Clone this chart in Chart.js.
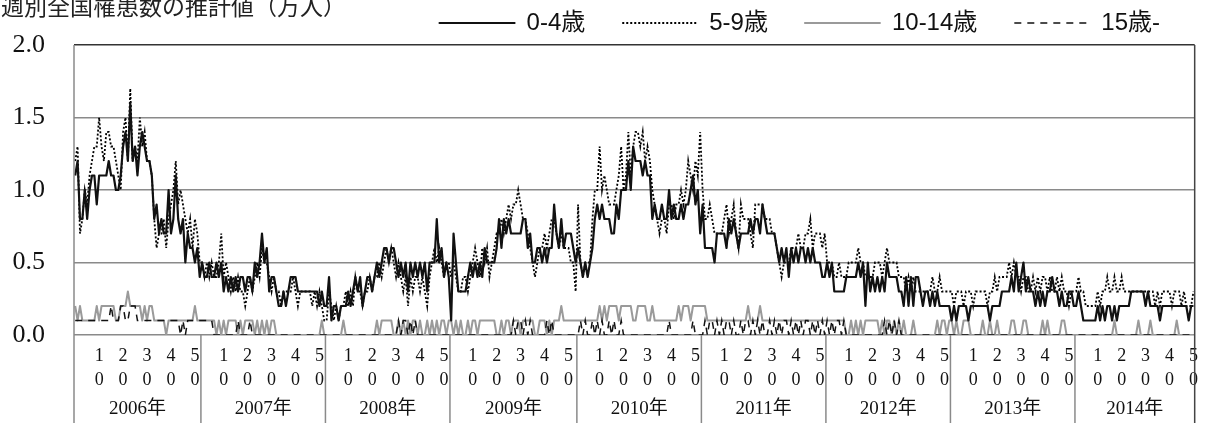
<!DOCTYPE html>
<html>
<head>
<meta charset="utf-8">
<script src="https://cdn.jsdelivr.net/npm/chart.js@4.4.1/dist/chart.umd.min.js"></script>
<style>
  body { margin: 0; background: #fff; }
  #wrap { position: relative; width: 1207px; height: 423px; overflow: hidden; }
  #title {
    position: absolute; left: 1px; top: -6px;
    font: 23px/23px 'Noto Sans CJK JP', sans-serif; color: #222; white-space: nowrap;
  }
</style>
</head>
<body>
<div id="wrap">
  <canvas id="fluChart" width="1207" height="423"></canvas>
  <div id="title">週別全国罹患数の推計値（万人）</div>
</div>
<script>
// ---- Data (weekly estimates, 万人) ----
const yearLabels  = ['2006年', '2007年', '2008年', '2009年', '2010年', '2011年', '2012年', '2013年', '2014年'];
const weeksInYear = [53, 52, 52, 53, 52, 52, 52, 52, 50];
const firstWeek   = [0, 1, 1, 1, 1, 1, 1, 1, 1];
const labelWeeks  = [10, 20, 30, 40, 50];
const seriesNames = ['0-4歳', '5-9歳', '10-14歳', '15歳-'];

const age0to4 = [
  // 2006
  1.1, 1.2, 0.8, 0.8, 1.0, 0.8, 1.0, 1.1, 1.1, 0.9, 1.1, 1.1, 1.1, 1.1, 1.2, 1.1, 1.1, 1.0, 1.0, 1.1,
  1.3, 1.4, 1.2, 1.6, 1.2, 1.3, 1.1, 1.3, 1.4, 1.3, 1.2, 1.2, 1.1, 0.8, 0.9, 0.7, 0.8, 0.7, 0.7, 1.0,
  0.7, 0.8, 1.1, 0.8, 0.7, 0.8, 0.5, 0.7, 0.6, 0.6, 0.5, 0.6, 0.4,
  // 2007
  0.5, 0.4, 0.4, 0.5, 0.4, 0.4, 0.5, 0.4, 0.5, 0.3, 0.4, 0.3, 0.4, 0.3, 0.4, 0.3, 0.4, 0.4, 0.3, 0.4,
  0.4, 0.3, 0.5, 0.4, 0.5, 0.7, 0.5, 0.6, 0.3, 0.4, 0.4, 0.3, 0.2, 0.2, 0.3, 0.2, 0.3, 0.4, 0.4, 0.4,
  0.3, 0.3, 0.3, 0.3, 0.3, 0.3, 0.3, 0.3, 0.3, 0.2, 0.3, 0.2,
  // 2008
  0.2, 0.4, 0.1, 0.2, 0.2, 0.1, 0.2, 0.2, 0.2, 0.3, 0.2, 0.3, 0.4, 0.3, 0.4, 0.2, 0.3, 0.4, 0.4, 0.3,
  0.4, 0.5, 0.4, 0.5, 0.6, 0.6, 0.5, 0.6, 0.6, 0.5, 0.4, 0.5, 0.4, 0.5, 0.3, 0.5, 0.4, 0.5, 0.4, 0.5,
  0.4, 0.5, 0.3, 0.5, 0.5, 0.5, 0.8, 0.5, 0.6, 0.4, 0.5, 0.4,
  // 2009
  0.1, 0.7, 0.5, 0.3, 0.3, 0.3, 0.3, 0.4, 0.5, 0.4, 0.5, 0.4, 0.5, 0.4, 0.6, 0.5, 0.5, 0.5, 0.5, 0.6,
  0.8, 0.6, 0.8, 0.7, 0.8, 0.7, 0.7, 0.7, 0.7, 0.7, 0.8, 0.8, 0.6, 0.7, 0.5, 0.5, 0.6, 0.6, 0.5, 0.6,
  0.5, 0.6, 0.6, 0.9, 0.7, 0.6, 0.8, 0.6, 0.7, 0.7, 0.7, 0.6, 0.5,
  // 2010
  0.6, 0.5, 0.4, 0.5, 0.4, 0.5, 0.6, 0.8, 0.9, 0.8, 0.9, 0.8, 0.8, 0.8, 0.7, 0.7, 0.9, 0.8, 1.0, 1.0,
  1.0, 1.2, 1.0, 1.3, 1.2, 1.2, 1.2, 1.1, 1.2, 1.1, 1.1, 0.8, 0.9, 0.8, 0.8, 0.9, 0.8, 0.8, 1.0, 0.8,
  0.9, 0.8, 0.8, 0.9, 0.8, 0.9, 0.9, 1.0, 1.1, 0.9, 1.0, 0.7,
  // 2011
  0.9, 0.6, 0.6, 0.6, 0.6, 0.5, 0.7, 0.7, 0.7, 0.7, 0.6, 0.8, 0.7, 0.8, 0.7, 0.6, 0.7, 0.7, 0.7, 0.7,
  0.8, 0.7, 0.8, 0.8, 0.7, 0.9, 0.8, 0.7, 0.7, 0.7, 0.7, 0.6, 0.5, 0.6, 0.5, 0.6, 0.4, 0.6, 0.5, 0.6,
  0.5, 0.6, 0.6, 0.5, 0.6, 0.5, 0.6, 0.5, 0.5, 0.5, 0.4, 0.4,
  // 2012
  0.5, 0.4, 0.5, 0.3, 0.3, 0.3, 0.3, 0.3, 0.4, 0.4, 0.4, 0.4, 0.4, 0.5, 0.4, 0.5, 0.2, 0.5, 0.3, 0.4,
  0.3, 0.4, 0.3, 0.4, 0.3, 0.5, 0.4, 0.4, 0.4, 0.4, 0.3, 0.3, 0.2, 0.4, 0.2, 0.4, 0.2, 0.4, 0.4, 0.3,
  0.2, 0.3, 0.3, 0.2, 0.3, 0.2, 0.3, 0.2, 0.2, 0.2, 0.2, 0.2,
  // 2013
  0.1, 0.2, 0.1, 0.2, 0.2, 0.2, 0.2, 0.1, 0.2, 0.2, 0.2, 0.2, 0.2, 0.2, 0.2, 0.2, 0.1, 0.2, 0.2, 0.2,
  0.2, 0.3, 0.3, 0.3, 0.3, 0.4, 0.3, 0.5, 0.3, 0.4, 0.5, 0.3, 0.4, 0.3, 0.3, 0.2, 0.3, 0.2, 0.3, 0.2,
  0.3, 0.3, 0.4, 0.3, 0.3, 0.2, 0.3, 0.2, 0.2, 0.3, 0.3, 0.2,
  // 2014
  0.2, 0.3, 0.2, 0.1, 0.1, 0.1, 0.1, 0.1, 0.1, 0.2, 0.1, 0.2, 0.1, 0.2, 0.2, 0.1, 0.2, 0.1, 0.2, 0.2,
  0.2, 0.2, 0.2, 0.3, 0.3, 0.3, 0.3, 0.3, 0.3, 0.2, 0.3, 0.2, 0.2, 0.2, 0.2, 0.1, 0.2, 0.2, 0.2, 0.2,
  0.2, 0.2, 0.2, 0.2, 0.2, 0.2, 0.2, 0.1, 0.2, 0.2
];

const age5to9 = [
  // 2006
  1.2, 1.3, 0.7, 0.8, 1.0, 0.9, 1.1, 1.2, 1.3, 1.3, 1.5, 1.3, 1.2, 1.4, 1.4, 1.3, 1.3, 1.2, 1.1, 1.0,
  1.4, 1.5, 1.2, 1.7, 1.2, 1.3, 1.2, 1.5, 1.3, 1.4, 1.2, 1.2, 1.1, 0.8, 0.6, 0.7, 0.7, 0.8, 0.6, 0.8,
  0.9, 1.0, 1.2, 0.9, 1.0, 0.9, 0.8, 0.7, 0.8, 0.6, 0.8, 0.7, 0.5,
  // 2007
  0.5, 0.4, 0.5, 0.4, 0.5, 0.4, 0.4, 0.5, 0.7, 0.4, 0.5, 0.4, 0.3, 0.4, 0.3, 0.4, 0.3, 0.3, 0.2, 0.3,
  0.4, 0.3, 0.4, 0.5, 0.4, 0.6, 0.5, 0.5, 0.4, 0.3, 0.4, 0.3, 0.3, 0.2, 0.3, 0.3, 0.3, 0.3, 0.4, 0.3,
  0.2, 0.3, 0.3, 0.3, 0.3, 0.3, 0.2, 0.3, 0.2, 0.3, 0.2, 0.1,
  // 2008
  0.1, 0.3, 0.2, 0.1, 0.2, 0.1, 0.2, 0.2, 0.3, 0.2, 0.3, 0.2, 0.4, 0.3, 0.3, 0.2, 0.3, 0.3, 0.4, 0.3,
  0.4, 0.4, 0.5, 0.4, 0.5, 0.6, 0.5, 0.6, 0.5, 0.4, 0.5, 0.4, 0.3, 0.4, 0.2, 0.4, 0.3, 0.4, 0.4, 0.3,
  0.4, 0.3, 0.2, 0.4, 0.5, 0.6, 0.5, 0.6, 0.5, 0.4, 0.5, 0.5,
  // 2009
  0.4, 0.5, 0.4, 0.3, 0.3, 0.4, 0.4, 0.3, 0.4, 0.5, 0.6, 0.5, 0.4, 0.6, 0.5, 0.6, 0.4, 0.5, 0.6, 0.7,
  0.7, 0.8, 0.7, 0.8, 0.9, 0.8, 0.9, 0.9, 1.0, 0.9, 0.8, 0.8, 0.7, 0.6, 0.5, 0.4, 0.5, 0.6, 0.6, 0.7,
  0.6, 0.7, 0.8, 0.8, 0.7, 0.6, 0.7, 0.6, 0.6, 0.6, 0.5, 0.5, 0.3,
  // 2010
  0.9, 0.5, 0.4, 0.5, 0.5, 0.5, 0.8, 1.0, 1.0, 1.3, 1.0, 1.1, 1.0, 0.9, 0.9, 0.9, 1.0, 1.1, 1.3, 1.0,
  1.1, 1.4, 1.1, 1.3, 1.4, 1.4, 1.3, 1.4, 1.2, 1.3, 1.2, 1.0, 0.9, 0.8, 0.7, 0.8, 0.8, 0.7, 0.9, 0.9,
  0.8, 0.9, 0.9, 1.0, 0.9, 1.0, 1.2, 1.1, 1.0, 1.2, 1.1, 1.4,
  // 2011
  1.0, 0.8, 0.8, 0.9, 0.8, 0.7, 0.7, 0.7, 0.7, 0.8, 0.9, 0.7, 0.8, 0.9, 0.7, 0.6, 0.9, 0.8, 0.8, 0.8,
  0.7, 0.6, 0.9, 0.9, 0.9, 0.9, 0.8, 0.8, 0.8, 0.7, 0.7, 0.6, 0.5, 0.4, 0.5, 0.5, 0.5, 0.6, 0.6, 0.6,
  0.7, 0.6, 0.6, 0.7, 0.7, 0.8, 0.6, 0.7, 0.7, 0.7, 0.6, 0.7,
  // 2012
  0.5, 0.5, 0.5, 0.4, 0.4, 0.5, 0.4, 0.4, 0.4, 0.5, 0.5, 0.5, 0.5, 0.6, 0.5, 0.5, 0.4, 0.4, 0.4, 0.4,
  0.5, 0.5, 0.5, 0.4, 0.5, 0.6, 0.5, 0.5, 0.5, 0.5, 0.4, 0.4, 0.4, 0.3, 0.4, 0.3, 0.4, 0.3, 0.3, 0.3,
  0.3, 0.3, 0.3, 0.3, 0.4, 0.3, 0.3, 0.4, 0.3, 0.3, 0.3, 0.3,
  // 2013
  0.3, 0.2, 0.3, 0.3, 0.3, 0.2, 0.3, 0.3, 0.3, 0.2, 0.3, 0.3, 0.3, 0.3, 0.3, 0.2, 0.3, 0.3, 0.4, 0.3,
  0.4, 0.4, 0.4, 0.4, 0.5, 0.4, 0.5, 0.4, 0.4, 0.3, 0.4, 0.4, 0.3, 0.3, 0.4, 0.3, 0.4, 0.3, 0.4, 0.4,
  0.3, 0.4, 0.3, 0.3, 0.4, 0.3, 0.4, 0.3, 0.3, 0.2, 0.3, 0.3,
  // 2014
  0.3, 0.4, 0.3, 0.3, 0.2, 0.2, 0.2, 0.2, 0.2, 0.3, 0.2, 0.3, 0.3, 0.4, 0.3, 0.3, 0.4, 0.3, 0.3, 0.4,
  0.3, 0.3, 0.3, 0.3, 0.3, 0.3, 0.3, 0.3, 0.3, 0.3, 0.3, 0.3, 0.3, 0.2, 0.3, 0.2, 0.3, 0.3, 0.3, 0.3,
  0.2, 0.3, 0.3, 0.3, 0.2, 0.3, 0.2, 0.2, 0.2, 0.3
];

const age10to14 = [
  // 2006
  0.2, 0.1, 0.2, 0.1, 0.1, 0.1, 0.1, 0.1, 0.1, 0.2, 0.1, 0.2, 0.2, 0.2, 0.2, 0.2, 0.2, 0.1, 0.1, 0.2,
  0.2, 0.2, 0.3, 0.2, 0.2, 0.2, 0.2, 0.2, 0.1, 0.2, 0.1, 0.2, 0.2, 0.1, 0.1, 0.1, 0.1, 0.1, 0.0, 0.1,
  0.1, 0.1, 0.1, 0.1, 0.1, 0.1, 0.1, 0.1, 0.1, 0.1, 0.2, 0.1, 0.1,
  // 2007
  0.1, 0.1, 0.1, 0.1, 0.1, 0.1, 0.0, 0.1, 0.0, 0.1, 0.0, 0.1, 0.1, 0.1, 0.1, 0.0, 0.1, 0.0, 0.1, 0.1,
  0.1, 0.1, 0.0, 0.1, 0.0, 0.1, 0.0, 0.1, 0.0, 0.1, 0.1, 0.0, 0.0, 0.0, 0.0, 0.0, 0.0, 0.0, 0.0, 0.0,
  0.0, 0.0, 0.0, 0.0, 0.0, 0.0, 0.0, 0.0, 0.0, 0.0, 0.1, 0.0,
  // 2008
  0.0, 0.0, 0.0, 0.0, 0.0, 0.0, 0.0, 0.1, 0.0, 0.0, 0.0, 0.0, 0.0, 0.0, 0.0, 0.0, 0.0, 0.0, 0.0, 0.0,
  0.0, 0.1, 0.0, 0.1, 0.1, 0.1, 0.1, 0.1, 0.0, 0.0, 0.1, 0.0, 0.1, 0.0, 0.1, 0.0, 0.1, 0.1, 0.0, 0.1,
  0.0, 0.0, 0.1, 0.0, 0.1, 0.0, 0.1, 0.0, 0.1, 0.1, 0.0, 0.1,
  // 2009
  0.1, 0.0, 0.1, 0.0, 0.1, 0.0, 0.0, 0.1, 0.0, 0.1, 0.1, 0.0, 0.1, 0.1, 0.1, 0.1, 0.1, 0.1, 0.1, 0.0,
  0.0, 0.1, 0.0, 0.1, 0.1, 0.0, 0.1, 0.1, 0.1, 0.0, 0.1, 0.1, 0.1, 0.1, 0.1, 0.0, 0.0, 0.1, 0.1, 0.1,
  0.0, 0.1, 0.0, 0.1, 0.1, 0.1, 0.2, 0.1, 0.1, 0.1, 0.1, 0.1, 0.1,
  // 2010
  0.1, 0.1, 0.1, 0.1, 0.1, 0.1, 0.1, 0.1, 0.1, 0.2, 0.1, 0.2, 0.1, 0.2, 0.2, 0.2, 0.2, 0.1, 0.2, 0.2,
  0.2, 0.2, 0.2, 0.1, 0.1, 0.2, 0.2, 0.2, 0.2, 0.1, 0.1, 0.2, 0.1, 0.1, 0.1, 0.1, 0.1, 0.1, 0.1, 0.1,
  0.1, 0.1, 0.2, 0.1, 0.2, 0.2, 0.2, 0.1, 0.2, 0.2, 0.2, 0.2,
  // 2011
  0.2, 0.2, 0.1, 0.1, 0.1, 0.1, 0.1, 0.1, 0.1, 0.1, 0.1, 0.1, 0.1, 0.1, 0.1, 0.1, 0.1, 0.1, 0.1, 0.2,
  0.1, 0.1, 0.1, 0.1, 0.2, 0.1, 0.1, 0.1, 0.1, 0.1, 0.1, 0.1, 0.1, 0.1, 0.1, 0.1, 0.1, 0.1, 0.1, 0.1,
  0.1, 0.1, 0.1, 0.1, 0.1, 0.1, 0.1, 0.1, 0.1, 0.1, 0.1, 0.1,
  // 2012
  0.1, 0.1, 0.1, 0.1, 0.1, 0.1, 0.1, 0.1, 0.0, 0.0, 0.1, 0.0, 0.1, 0.0, 0.1, 0.0, 0.1, 0.1, 0.1, 0.1,
  0.1, 0.1, 0.0, 0.1, 0.0, 0.1, 0.1, 0.0, 0.1, 0.0, 0.1, 0.0, 0.1, 0.0, 0.0, 0.0, 0.1, 0.0, 0.0, 0.0,
  0.0, 0.0, 0.0, 0.0, 0.0, 0.0, 0.1, 0.0, 0.1, 0.1, 0.0, 0.1,
  // 2013
  0.1, 0.0, 0.1, 0.0, 0.0, 0.1, 0.1, 0.1, 0.0, 0.0, 0.0, 0.0, 0.0, 0.1, 0.0, 0.0, 0.1, 0.0, 0.0, 0.1,
  0.0, 0.0, 0.0, 0.0, 0.0, 0.1, 0.1, 0.0, 0.0, 0.0, 0.1, 0.1, 0.0, 0.0, 0.0, 0.0, 0.0, 0.0, 0.1, 0.0,
  0.1, 0.0, 0.0, 0.0, 0.0, 0.0, 0.1, 0.1, 0.0, 0.0, 0.0, 0.0,
  // 2014
  0.0, 0.0, 0.0, 0.0, 0.0, 0.0, 0.0, 0.0, 0.0, 0.0, 0.0, 0.0, 0.0, 0.0, 0.0, 0.0, 0.1, 0.0, 0.0, 0.0,
  0.0, 0.0, 0.0, 0.0, 0.0, 0.0, 0.1, 0.0, 0.0, 0.0, 0.0, 0.1, 0.0, 0.0, 0.0, 0.0, 0.0, 0.0, 0.0, 0.0,
  0.0, 0.0, 0.1, 0.0, 0.0, 0.0, 0.0, 0.0, 0.0, 0.0
];

const age15plus = [
  // 2006
  0.1, 0.1, 0.1, 0.1, 0.1, 0.1, 0.1, 0.1, 0.1, 0.1, 0.1, 0.1, 0.1, 0.1, 0.1, 0.2, 0.1, 0.1, 0.1, 0.2,
  0.2, 0.1, 0.1, 0.2, 0.2, 0.2, 0.1, 0.1, 0.1, 0.1, 0.1, 0.1, 0.1, 0.1, 0.1, 0.1, 0.1, 0.1, 0.1, 0.1,
  0.1, 0.1, 0.1, 0.1, 0.0, 0.1, 0.0, 0.1, 0.1, 0.1, 0.1, 0.1, 0.1,
  // 2007
  0.1, 0.1, 0.1, 0.1, 0.1, 0.0, 0.0, 0.0, 0.0, 0.0, 0.0, 0.0, 0.0, 0.0, 0.0, 0.1, 0.0, 0.0, 0.0, 0.0,
  0.1, 0.0, 0.0, 0.0, 0.0, 0.0, 0.0, 0.0, 0.0, 0.0, 0.0, 0.0, 0.0, 0.0, 0.0, 0.0, 0.0, 0.0, 0.0, 0.0,
  0.0, 0.0, 0.0, 0.0, 0.0, 0.0, 0.0, 0.0, 0.0, 0.0, 0.0, 0.0,
  // 2008
  0.0, 0.0, 0.0, 0.0, 0.0, 0.0, 0.0, 0.0, 0.0, 0.0, 0.0, 0.0, 0.0, 0.0, 0.0, 0.0, 0.0, 0.0, 0.0, 0.0,
  0.0, 0.0, 0.0, 0.0, 0.0, 0.0, 0.0, 0.0, 0.0, 0.0, 0.1, 0.0, 0.1, 0.1, 0.0, 0.1, 0.0, 0.1, 0.0, 0.0,
  0.0, 0.0, 0.0, 0.0, 0.0, 0.0, 0.0, 0.0, 0.0, 0.0, 0.0, 0.0,
  // 2009
  0.0, 0.0, 0.0, 0.0, 0.0, 0.0, 0.0, 0.0, 0.0, 0.0, 0.0, 0.0, 0.0, 0.0, 0.0, 0.0, 0.0, 0.0, 0.0, 0.0,
  0.0, 0.0, 0.0, 0.0, 0.0, 0.0, 0.1, 0.0, 0.1, 0.1, 0.0, 0.1, 0.0, 0.1, 0.0, 0.0, 0.0, 0.0, 0.0, 0.0,
  0.1, 0.0, 0.1, 0.0, 0.0, 0.0, 0.0, 0.0, 0.0, 0.0, 0.0, 0.0, 0.0,
  // 2010
  0.0, 0.1, 0.0, 0.1, 0.0, 0.0, 0.1, 0.0, 0.1, 0.0, 0.1, 0.0, 0.0, 0.1, 0.0, 0.1, 0.0, 0.0, 0.1, 0.0,
  0.0, 0.0, 0.0, 0.0, 0.0, 0.0, 0.0, 0.0, 0.0, 0.0, 0.0, 0.0, 0.0, 0.0, 0.0, 0.0, 0.0, 0.0, 0.1, 0.0,
  0.0, 0.0, 0.0, 0.0, 0.0, 0.0, 0.0, 0.0, 0.1, 0.0, 0.0, 0.0,
  // 2011
  0.0, 0.1, 0.0, 0.1, 0.1, 0.0, 0.1, 0.0, 0.1, 0.0, 0.1, 0.1, 0.0, 0.1, 0.0, 0.0, 0.1, 0.0, 0.1, 0.1,
  0.0, 0.1, 0.0, 0.1, 0.0, 0.1, 0.0, 0.0, 0.1, 0.0, 0.1, 0.0, 0.1, 0.0, 0.1, 0.1, 0.0, 0.1, 0.0, 0.1,
  0.0, 0.1, 0.0, 0.1, 0.1, 0.0, 0.1, 0.0, 0.1, 0.0, 0.1, 0.0,
  // 2012
  0.1, 0.0, 0.1, 0.0, 0.1, 0.1, 0.0, 0.1, 0.0, 0.0, 0.0, 0.0, 0.0, 0.0, 0.0, 0.0, 0.0, 0.0, 0.0, 0.0,
  0.0, 0.0, 0.0, 0.0, 0.1, 0.0, 0.1, 0.0, 0.1, 0.0, 0.1, 0.0, 0.0, 0.0, 0.0, 0.0, 0.0, 0.0, 0.0, 0.0,
  0.0, 0.0, 0.0, 0.0, 0.0, 0.0, 0.0, 0.0, 0.0, 0.0, 0.0, 0.0,
  // 2013
  0.0, 0.0, 0.0, 0.0, 0.0, 0.0, 0.0, 0.0, 0.0, 0.0, 0.0, 0.0, 0.0, 0.0, 0.0, 0.0, 0.0, 0.0, 0.0, 0.0,
  0.0, 0.0, 0.0, 0.0, 0.0, 0.0, 0.0, 0.0, 0.0, 0.0, 0.0, 0.0, 0.0, 0.0, 0.0, 0.0, 0.0, 0.0, 0.0, 0.0,
  0.0, 0.0, 0.0, 0.0, 0.0, 0.0, 0.0, 0.0, 0.0, 0.0, 0.0, 0.0,
  // 2014
  0.0, 0.0, 0.0, 0.0, 0.0, 0.0, 0.0, 0.0, 0.0, 0.0, 0.0, 0.0, 0.0, 0.0, 0.0, 0.0, 0.0, 0.0, 0.0, 0.0,
  0.0, 0.0, 0.0, 0.0, 0.0, 0.0, 0.0, 0.0, 0.0, 0.0, 0.0, 0.0, 0.0, 0.0, 0.0, 0.0, 0.0, 0.0, 0.0, 0.0,
  0.0, 0.0, 0.0, 0.0, 0.0, 0.0, 0.0, 0.0, 0.0, 0.0
];

// ---- Category axis: one entry per week ----
const weekNo = [];
const categories = [];
yearLabels.forEach((year, k) => {
  for (let w = 0; w < weeksInYear[k]; w++) {
    weekNo.push(firstWeek[k] + w);
    categories.push(year + ' 第' + (firstWeek[k] + w) + '週');
  }
});

// Year dividers under the axis + year names
const yearFrame = {
  id: 'yearFrame',
  afterDraw(chart) {
    const { ctx, chartArea: area, scales: { x } } = chart;
    const edges = [x.getPixelForValue(-0.5)];
    let count = 0;
    weeksInYear.forEach(n => { count += n; edges.push(x.getPixelForValue(count - 0.5)); });

    ctx.save();
    ctx.lineWidth = 1.5;
    edges.forEach((px, k) => {
      const outer = k === 0 || k === edges.length - 1;
      ctx.strokeStyle = k === edges.length - 1 ? '#444' : '#8a8a8a';
      ctx.beginPath();
      ctx.moveTo(px, outer ? area.top : area.bottom);
      ctx.lineTo(px, chart.height);
      ctx.stroke();
    });

    ctx.fillStyle = '#111';
    ctx.font = "19px 'Liberation Serif', 'Noto Sans CJK JP', serif";
    ctx.textAlign = 'center';
    ctx.textBaseline = 'middle';
    yearLabels.forEach((t, k) => {
      ctx.fillText(t, (edges[k] + edges[k + 1]) / 2, area.bottom + 74);
    });
    ctx.restore();
  }
};

const serif = "'Liberation Serif', 'Times New Roman', serif";

new Chart(document.getElementById('fluChart'), {
  type: 'line',
  data: {
    labels: categories,
    datasets: [
      {
        label: seriesNames[0],
        data: age0to4,
        borderColor: '#111',
        borderWidth: 2.2,
        borderJoinStyle: 'round',
        order: 0,
      },
      {
        label: seriesNames[1],
        data: age5to9,
        borderColor: '#000',
        borderWidth: 1.8,
        borderDash: [2, 2],
        order: 3,
      },
      {
        label: seriesNames[2],
        data: age10to14,
        borderColor: '#9a9a9a',
        borderWidth: 2,
        borderJoinStyle: 'round',
        order: 2,
      },
      {
        label: seriesNames[3],
        data: age15plus,
        borderColor: '#111',
        borderWidth: 1.5,
        borderDash: [7, 6],
        order: 1,
      }
    ]
  },
  options: {
    responsive: false,
    animation: false,
    devicePixelRatio: 1,
    layout: { padding: { top: -26, right: 10, bottom: 0, left: 0 } },
    elements: {
      point: { radius: 0, hoverRadius: 0 },
      line: { tension: 0, fill: false }
    },
    plugins: {
      tooltip: { enabled: false },
      legend: {
        position: 'top',
        align: 'end',
        labels: {
          // a zero-height box is stroked as a single line sample
          boxWidth: 75,
          boxHeight: 0,
          padding: 37,
          color: '#111',
          sort: (a, b) => a.datasetIndex - b.datasetIndex,
          font: { family: "'Liberation Sans Narrow', 'Liberation Sans', 'Noto Sans CJK JP', sans-serif", size: 24 }
        }
      }
    },
    scales: {
      x: {
        offset: true,
        grid: { display: false, drawTicks: false },
        border: { display: false },
        ticks: {
          autoSkip: false,
          maxRotation: 0,
          minRotation: 0,
          padding: 9,
          color: '#111',
          font: { family: serif, size: 18, lineHeight: 1.33 },
          callback: (value, index) => {
            const w = weekNo[index];
            return labelWeeks.includes(w) ? String(w).split('') : '';
          }
        },
        afterFit: (scale) => { scale.height = 88; }
      },
      y: {
        min: 0,
        max: 2,
        grid: {
          drawTicks: false,
          lineWidth: 1.5,
          color: (c) => (c.tick && c.tick.value === 2 ? '#333' : '#8a8a8a')
        },
        border: { display: false },
        ticks: {
          stepSize: 0.5,
          padding: 29,
          color: '#111',
          font: { family: serif, size: 26 },
          callback: (v) => Number(v).toFixed(1)
        },
        afterFit: (scale) => { scale.width = 74; }
      }
    }
  },
  plugins: [yearFrame]
});
</script>
</body>
</html>
